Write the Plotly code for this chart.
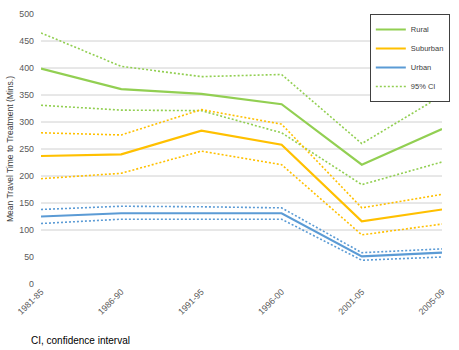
import plotly.graph_objects as go

periods = ["1981-85", "1986-90", "1991-95", "1996-00", "2001-05", "2005-09"]

rural = [399, 361, 352, 333, 221, 287]
rural_hi = [465, 403, 384, 388, 260, 349]
rural_lo = [331, 322, 321, 280, 184, 226]

suburban = [237, 240, 284, 258, 116, 138]
suburban_hi = [280, 276, 323, 296, 141, 166]
suburban_lo = [195, 205, 246, 221, 91, 111]

urban = [125, 131, 131, 131, 51, 58]
urban_hi = [138, 144, 143, 141, 58, 65]
urban_lo = [112, 120, 120, 120, 44, 50]

grid_vals = [100, 150, 200, 250, 300, 350, 400, 450]
y_ticks = [0, 50, 100, 150, 200, 250, 300, 350, 400, 450, 500]

GREEN = "#92CF52"
ORANGE = "#FFC000"
BLUE = "#5B9BD5"

fig = go.Figure()

series = [
    ("Rural", rural, rural_hi, rural_lo, GREEN),
    ("Suburban", suburban, suburban_hi, suburban_lo, ORANGE),
    ("Urban", urban, urban_hi, urban_lo, BLUE),
]

for name, mid, hi, lo, col in series:
    for k, vals in enumerate((hi, lo)):
        fig.add_trace(go.Scatter(
            x=periods, y=vals, mode="lines",
            line=dict(color=col, width=1.6, dash="2px,2px"),
            name="95% CI", showlegend=(name == "Rural" and k == 0),
            legendrank=4, hoverinfo="skip"))

for i, (name, mid, hi, lo, col) in enumerate(series):
    fig.add_trace(go.Scatter(
        x=periods, y=mid, mode="lines",
        line=dict(color=col, width=2.2),
        name=name, legendrank=i + 1))

for g in grid_vals:
    fig.add_shape(type="line", xref="paper", x0=0, x1=1, yref="y", y0=g, y1=g,
                  line=dict(color="#D0D0D0", width=1), layer="below")

fig.update_layout(
    width=459, height=350,
    margin=dict(l=38, r=9, t=10, b=66),
    plot_bgcolor="white", paper_bgcolor="white",
    font=dict(family="Liberation Sans, Arial, sans-serif", size=8, color="#595959"),
    showlegend=True,
    legend=dict(x=0.82, y=1.0, xanchor="left", yanchor="top",
                bordercolor="#404040", borderwidth=1, bgcolor="white",
                font=dict(size=7.5, color="#404040"),
                itemwidth=30, tracegroupgap=0),
    annotations=[dict(text="CI, confidence interval", xref="paper", yref="paper",
                      x=-0.03, y=-0.18, xanchor="left", yanchor="top",
                      showarrow=False,
                      font=dict(family="Liberation Sans, Arial, sans-serif", size=10, color="#000000"))],
)

fig.update_xaxes(type="category", range=[0, 5], showgrid=False, showline=False,
                 zeroline=False, ticks="", tickangle=-45,
                 tickfont=dict(size=8.8, color="#595959"))
fig.update_yaxes(range=[0, 500], tickvals=y_ticks, showgrid=False, zeroline=False,
                 showline=False, ticks="", ticklabelstandoff=6,
                 tickfont=dict(size=8.8, color="#595959"),
                 title=dict(text="Mean Travel Time to Treatment (Mins.)",
                            font=dict(size=8.5, color="#404040"), standoff=4))

fig.write_html("out.html")
